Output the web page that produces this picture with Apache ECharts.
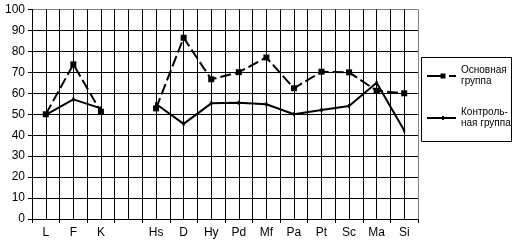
<!DOCTYPE html>
<html>
<head>
<meta charset="utf-8">
<script src="https://cdn.jsdelivr.net/npm/echarts@6/dist/echarts.min.js"></script>
<style>
  html, body { margin: 0; padding: 0; background: #fff; }
  #chart { width: 516px; height: 244px; }
</style>
</head>
<body>
<div id="chart"></div>
<script>
// шкалы (blank slot between K and Hs)
const categories = ['L', 'F', 'K', '', 'Hs', 'D', 'Hy', 'Pd', 'Mf', 'Pa', 'Pt', 'Sc', 'Ma', 'Si']
const mainGroup = [50, 73.8, 51.2, null, 52.8, 86.5, 66.7, 70.1, 77.1, 62.4, 70.3, 70, 61.2, 60]
const controlGroup = [49.7, 57.1, 52.8, null, 54.9, 45.4, 55.2, 55.5, 54.8, 50, 52, 53.9, 65, 42.2]
const seriesNames = ['Основная\nгруппа', 'Контроль-\nная группа']

const font = 'Liberation Sans, Arial, sans-serif'

// legend icons drawn like the old excel ones (line + marker), 29x8 box
const mainIcon = 'path://M0,0M29,8M0,3h14v2h-14zM13.5,1.5h5v5h-5zM22,3h7v2h-7z'
const controlIcon = 'path://M0,0M29,8M0,3h29v2h-29zM15,2h2v4h-2z'

// horizontal grid colors: top line is the plot border (gray)
const hColors = Array.from({ length: 11 }, (_, i) => (i === 10 ? '#808080' : '#000'))
// vertical grid at category centers and borders, last one is border (gray)
const vCount = categories.length * 2
const vColors = Array.from({ length: vCount + 1 }, (_, i) => (i === vCount ? '#808080' : '#000'))

const myChart = echarts.init(document.getElementById('chart'), null, { renderer: 'canvas' })

const option = {
  animation: false,
  backgroundColor: '#fff',
  textStyle: { fontFamily: font },
  grid: { left: 32, top: 9.5, right: 98, bottom: 25, containLabel: false },
  legend: {
    orient: 'vertical',
    left: 427,
    top: 59.5,
    padding: 0,
    itemGap: 9,
    itemWidth: 29,
    itemHeight: 8,
    symbolKeepAspect: false,
    data: [
      { name: seriesNames[0], icon: mainIcon },
      { name: seriesNames[1], icon: controlIcon },
    ],
    textStyle: { fontSize: 10, lineHeight: 11, color: '#000', fontFamily: font, padding: [11, 0, 0, 0] },
  },
  graphic: [{
    type: 'rect',
    shape: { x: 421.5, y: 57.5, width: 90, height: 84 },
    style: { fill: 'none', stroke: '#000', lineWidth: 1 },
    silent: true,
  }],
  xAxis: [{
    type: 'category',
    data: categories,
    boundaryGap: true,
    axisLine: { lineStyle: { color: '#000', width: 1 } },
    axisTick: { show: true, length: 4, alignWithLabel: false, lineStyle: { color: '#000' } },
    axisLabel: { color: '#000', fontSize: 12, margin: 8, fontFamily: font, interval: 0 },
    splitLine: { show: false },
  }, {
    type: 'value',
    min: 0,
    max: vCount,
    interval: 1,
    position: 'bottom',
    axisLine: { show: false },
    axisTick: { show: false },
    axisLabel: { show: false },
    splitLine: { show: true, lineStyle: { color: vColors, width: 1 } },
  }],
  yAxis: {
    type: 'value',
    min: 0,
    max: 100,
    interval: 10,
    axisLine: { show: true, lineStyle: { color: '#000', width: 1 } },
    axisTick: { show: true, length: 4, lineStyle: { color: '#000' } },
    axisLabel: { color: '#000', fontSize: 12, margin: 7, fontFamily: font },
    splitLine: { show: true, lineStyle: { color: hColors, width: 1 } },
  },
  series: [{
    name: seriesNames[0],
    type: 'line',
    data: mainGroup,
    connectNulls: false,
    symbol: 'rect',
    symbolSize: 6,
    showAllSymbol: true,
    itemStyle: { color: '#000' },
    lineStyle: { color: '#000', width: 2, type: [11, 4] },
    z: 3,
  }, {
    name: seriesNames[1],
    type: 'line',
    data: controlGroup,
    connectNulls: false,
    symbol: 'rect',
    symbolSize: [2, 4],
    showAllSymbol: true,
    itemStyle: { color: '#000' },
    lineStyle: { color: '#000', width: 2 },
    z: 4,
  }],
}

myChart.setOption(option, true)
</script>
</body>
</html>
